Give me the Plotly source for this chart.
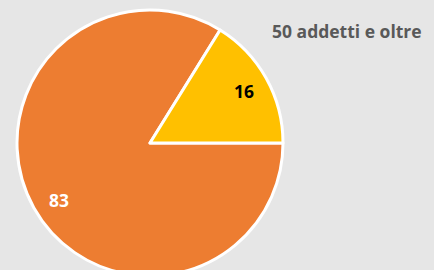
import math
import plotly.graph_objects as go

categories = ["83", "16"]
values = [83, 16]
colors = ["#ED7D31", "#FFC000"]
text_colors = ["#FFFFFF", "#000000"]
title_text = "50 addetti e oltre"

W, H = 434, 276
cx, cy, r = 150, 143, 133
label_frac = 0.81

fig = go.Figure(go.Pie(
    labels=categories,
    values=values,
    sort=False,
    direction="counterclockwise",
    rotation=90,
    marker=dict(colors=colors, line=dict(color="white", width=3)),
    textinfo="none",
    showlegend=False,
    hoverinfo="skip",
    domain=dict(x=[(cx - r) / W, (cx + r) / W], y=[max(0, (H - cy - r) / H), (H - cy + r) / H]),
))

# slice labels placed at the mid-angle of each slice (yellow slice starts at 3 o'clock going counterclockwise,
# orange fills the rest)
total = sum(values)
yellow_frac = values[1] / total
angles = {
    1: 360 * yellow_frac / 2,
    0: 360 * yellow_frac + 360 * (values[0] / total) / 2 + 3,
}
for i, v in enumerate(values):
    a = math.radians(angles[i])
    px = cx + label_frac * r * math.cos(a)
    py = cy - label_frac * r * math.sin(a)
    fig.add_annotation(
        text="<b>" + str(v) + "</b>", xref="paper", yref="paper",
        x=px / W, y=1 - py / H, xanchor="center", yanchor="middle",
        showarrow=False, font=dict(family="Open Sans", size=17.5, color=text_colors[i]),
    )

fig.add_annotation(
    text="<b>" + title_text + "</b>", xref="paper", yref="paper",
    x=424 / W, y=1 - 31 / H, xanchor="right", yanchor="middle",
    showarrow=False, font=dict(family="Open Sans", size=17.5, color="#595959"),
)

fig.update_layout(
    width=W, height=H,
    margin=dict(l=0, r=0, t=0, b=0),
    paper_bgcolor="#E6E6E6",
    plot_bgcolor="#E6E6E6",
)

fig.write_html(
    "out.html",
    config={"displayModeBar": False},
    post_script="document.body.style.margin='0';document.body.style.overflow='hidden';document.documentElement.style.overflow='hidden';",
)
